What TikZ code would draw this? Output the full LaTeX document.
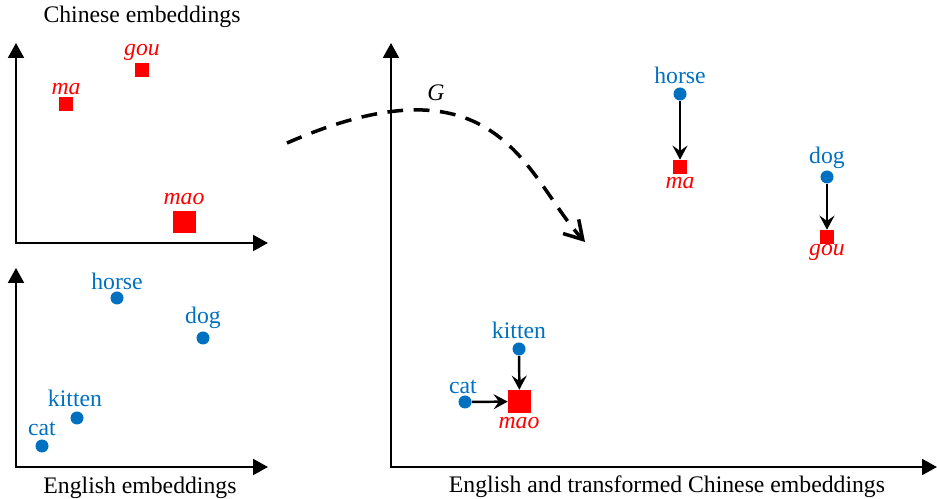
\documentclass[tikz,border=0pt]{standalone}
\usepackage{fontspec}
\setmainfont{Liberation Serif}
\usetikzlibrary{arrows.meta}
\definecolor{engblue}{HTML}{0070C0}
\tikzset{
  engdot/.style={circle,fill=engblue,inner sep=0pt,minimum size=7.4pt},
  chnsq/.style={rectangle,fill=red,inner sep=0pt,minimum size=7.9pt},
  chnbig/.style={chnsq,minimum size=13pt},
  englab/.style={text=engblue,inner sep=0pt,font=\fontsize{13.5}{16}\selectfont},
  chnlab/.style={text=red,inner sep=0pt,font=\fontsize{13.5}{16}\selectfont\itshape},
  caption/.style={inner sep=0pt,font=\fontsize{13.5}{16}\selectfont},
  axis/.style={line width=1.4pt,{Triangle[length=8.5pt,width=9pt]}-{Triangle[length=8.5pt,width=9pt]}},
  moveto/.style={line width=1.4pt,-{Stealth[length=8pt,width=8.5pt,inset=3pt]}},
  mapping/.style={line width=2pt,dash pattern=on 9pt off 6pt,-{Straight Barb[length=10pt,width=12pt]}},
}
\begin{document}
\begin{tikzpicture}[x=0.02cm,y=-0.02cm]
  \useasboundingbox (0,0) rectangle (937,499);
  % axes
  \draw[axis] (16,43) |- (268,243);
  \draw[axis] (16,268) |- (268,467);
  \draw[axis] (391,43) |- (937,467);
  % captions
  \node[caption] (chncap) at (142,17) {Chinese embeddings};
  \node[caption] (engcap) at (140,488) {English embeddings};
  \node[caption] (allcap) at (667,487) {English and transformed Chinese embeddings};
  % chinese points
  \node[chnsq] (gouA) at (142,70) {};
  \node[chnlab] (gouAlab) at (142,52) {gou};
  \node[chnsq] (maA) at (66,104) {};
  \node[chnlab] (maAlab) at (66,89) {ma};
  \node[chnbig] (maoA) at (184.5,222) {};
  \node[chnlab] (maoAlab) at (184,199) {mao};
  % english points
  \node[engdot] (horseA) at (117,298) {};
  \node[englab] (horseAlab) at (117,281) {horse};
  \node[engdot] (dogA) at (203,338) {};
  \node[englab] (dogAlab) at (203,318) {dog};
  \node[engdot] (kittenA) at (77,418) {};
  \node[englab] (kittenAlab) at (75,398) {kitten};
  \node[engdot] (catA) at (42,446) {};
  \node[englab] (catAlab) at (42,429) {cat};
  % mapping G
  \coordinate (gstart) at (287,143);
  \coordinate (gend) at (585,242);
  \draw[mapping] (gstart) .. controls (500,50) and (525,176) .. (gend);
  \node[font=\fontsize{13.5}{16}\selectfont\itshape,inner sep=0pt] (glab) at (436,93) {G};
  % transformed space
  \node[engdot] (horseB) at (680,94) {};
  \node[englab] (horseBlab) at (680,75) {horse};
  \node[chnsq] (maB) at (680,167) {};
  \node[chnlab] (maBlab) at (680,183) {ma};
  \node[engdot] (dogB) at (827,177) {};
  \node[englab] (dogBlab) at (827,158) {dog};
  \node[chnsq] (gouB) at (827,237) {};
  \node[chnlab] (gouBlab) at (827,252) {gou};
  \node[engdot] (kittenB) at (519,349) {};
  \node[englab] (kittenBlab) at (519,330) {kitten};
  \node[engdot] (catB) at (465,402) {};
  \node[englab] (catBlab) at (463,387) {cat};
  \node[chnbig] (maoB) at (519.5,401.5) {};
  \node[chnlab] (maoBlab) at (519,423) {mao};
  \draw[moveto] (horseB) -- (maB);
  \draw[moveto] (dogB) -- (gouB);
  \draw[moveto] (kittenB) -- (maoB);
  \draw[moveto] (catB) -- (maoB);
\end{tikzpicture}
\end{document}
